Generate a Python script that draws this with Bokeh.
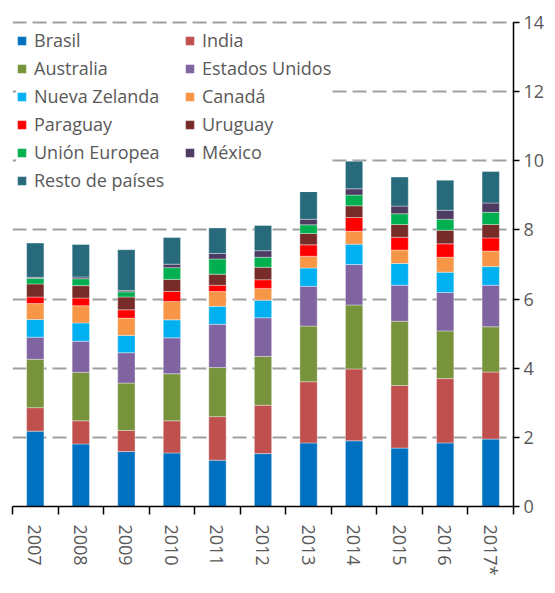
from bokeh.plotting import figure
from bokeh.models import Range1d, FixedTicker, Legend, LegendItem, ColumnDataSource
from bokeh.embed import file_html
from bokeh.resources import INLINE

# ---- data ----
years = ["2007", "2008", "2009", "2010", "2011", "2012", "2013", "2014", "2015", "2016", "2017*"]
brasil = [2.18, 1.81, 1.59, 1.55, 1.34, 1.53, 1.84, 1.90, 1.69, 1.84, 1.95]
india = [0.68, 0.67, 0.61, 0.93, 1.26, 1.40, 1.77, 2.08, 1.81, 1.86, 1.94]
australia = [1.40, 1.40, 1.37, 1.36, 1.42, 1.41, 1.61, 1.85, 1.86, 1.38, 1.31]
estados_unidos = [0.64, 0.90, 0.88, 1.04, 1.25, 1.12, 1.15, 1.17, 1.04, 1.11, 1.20]
nueva_zelanda = [0.51, 0.53, 0.50, 0.52, 0.52, 0.51, 0.53, 0.59, 0.63, 0.59, 0.54]
canada = [0.46, 0.50, 0.50, 0.53, 0.43, 0.34, 0.34, 0.37, 0.39, 0.43, 0.45]
paraguay = [0.19, 0.22, 0.24, 0.29, 0.18, 0.25, 0.33, 0.40, 0.37, 0.39, 0.38]
uruguay = [0.38, 0.36, 0.37, 0.35, 0.32, 0.36, 0.33, 0.34, 0.37, 0.39, 0.39]
union_europea = [0.16, 0.20, 0.15, 0.34, 0.44, 0.29, 0.25, 0.31, 0.31, 0.32, 0.35]
mexico = [0.03, 0.05, 0.04, 0.10, 0.16, 0.19, 0.16, 0.18, 0.22, 0.26, 0.27]
resto = [0.99, 0.94, 1.18, 0.77, 0.74, 0.73, 0.80, 0.80, 0.84, 0.87, 0.91]

series_keys = ["brasil", "india", "australia", "estados_unidos", "nueva_zelanda", "canada",
               "paraguay", "uruguay", "union_europea", "mexico", "resto"]
series_labels = ["Brasil", "India", "Australia", "Estados Unidos", "Nueva Zelanda", "Canadá",
                 "Paraguay", "Uruguay", "Unión Europea", "México", "Resto de países"]
series_colors = ["#0070C0", "#C0504D", "#77933C", "#8064A2", "#00B0F0", "#F79646",
                 "#FF0000", "#772C2A", "#00B050", "#4D3B62", "#276A7C"]
y_ticks = [0, 2, 4, 6, 8, 10, 12, 14]

FONT = "Open Sans"
TXT = "#595959"
FRAME_W = 501
FRAME_H = 486

x_idx = list(range(len(years)))
source = ColumnDataSource(dict(
    x=x_idx, brasil=brasil, india=india, australia=australia, estados_unidos=estados_unidos,
    nueva_zelanda=nueva_zelanda, canada=canada, paraguay=paraguay, uruguay=uruguay,
    union_europea=union_europea, mexico=mexico, resto=resto,
))

p = figure(frame_width=FRAME_W, frame_height=FRAME_H, output_backend="svg", toolbar_location=None,
           x_range=Range1d(-0.5, len(years) - 0.5), y_range=Range1d(0, 14.06),
           y_axis_location="right",
           min_border_left=12, min_border_top=20, min_border_right=10, min_border_bottom=10)
p.outline_line_color = None
p.background_fill_color = "white"

renderers = p.vbar_stack(series_keys, x="x", width=0.38, color=series_colors, source=source,
                         line_color="white", line_width=0.6, line_alpha=0.6)

# x axis: labels at centers, ticks at category boundaries
xa = p.xaxis[0]
xa.ticker = FixedTicker(ticks=x_idx, minor_ticks=[i - 0.5 for i in range(len(years) + 1)])
xa.major_label_overrides = {i: y for i, y in enumerate(years)}
xa.major_tick_out = 0
xa.major_tick_in = 0
xa.minor_tick_out = 8
xa.minor_tick_in = 0
xa.minor_tick_line_color = "black"
xa.minor_tick_line_width = 1.5
xa.axis_line_color = "black"
xa.axis_line_width = 1.5
xa.major_label_orientation = "vertical"
xa.major_label_standoff = 10
xa.major_label_text_font = FONT
xa.major_label_text_font_size = "18px"
xa.major_label_text_color = TXT

ya = p.yaxis[0]
ya.ticker = FixedTicker(ticks=y_ticks)
ya.bounds = (0, 14)
ya.major_tick_out = 6
ya.major_tick_in = 0
ya.minor_tick_out = 0
ya.minor_tick_in = 0
ya.major_tick_line_color = "black"
ya.major_tick_line_width = 1.5
ya.axis_line_color = "black"
ya.axis_line_width = 1.5
ya.major_label_standoff = 4
ya.major_label_text_font = FONT
ya.major_label_text_font_size = "18px"
ya.major_label_text_color = TXT

p.xgrid.visible = False
p.ygrid.ticker = FixedTicker(ticks=y_ticks)
p.ygrid.grid_line_color = "#A0A0A0"
p.ygrid.grid_line_width = 2
p.ygrid.grid_line_dash = "14 6"

def make_legend(idxs, location, label_width):
    items = [LegendItem(label=series_labels[i], renderers=[renderers[i]]) for i in idxs]
    return Legend(items=items, location=location, orientation="vertical",
                  glyph_width=11, glyph_height=11, label_height=24, spacing=4,
                  padding=7, margin=0, label_standoff=7, label_width=label_width,
                  label_text_font=FONT, label_text_font_size="18px", label_text_color=TXT,
                  border_line_color=None, background_fill_color="white", background_fill_alpha=1.0)

leg1 = make_legend([0, 2, 4, 6, 8, 10], (4, FRAME_H - 10 - 162), 296)
leg2 = make_legend([1, 3, 5, 7, 9], (172, FRAME_H - 10 - 134), 128)
p.add_layout(leg1)
p.add_layout(leg2)

open("out.html", "w").write(file_html(p, INLINE))
